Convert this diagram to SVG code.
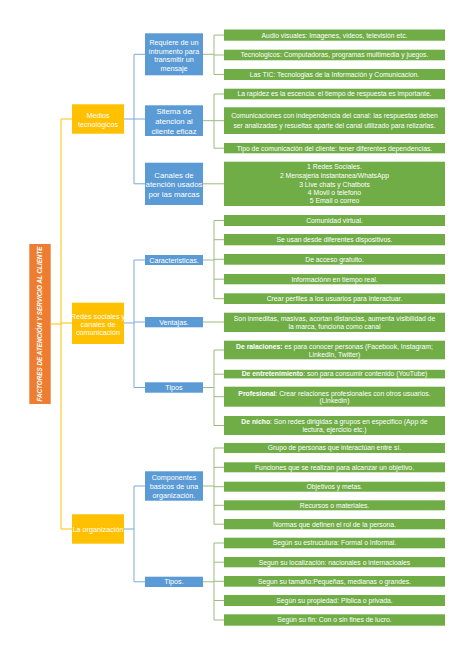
<svg xmlns="http://www.w3.org/2000/svg" width="474" height="670" viewBox="0 0 474 670">
<style>
text{font-family:"Liberation Sans",Arial,sans-serif;fill:#fff;text-anchor:middle}
.g{fill:#70AD47}.b{fill:#5B9BD5}.y{fill:#FFC000}.o{fill:#ED7D31}
.gt{font-size:6.8px}.bt{font-size:7.2px}.bt2{font-size:7.8px}.yt{font-size:7.2px}
.lg{stroke:#9DBB7E;fill:none;stroke-width:1}.lb{stroke:#7DA7D9;fill:none;stroke-width:1}.ly{stroke:#FFC000;fill:none;stroke-width:1}
.bold{font-weight:bold}
</style>
<rect width="474" height="670" fill="#fff"/>
<g id="connectors">
<path class="ly" d="M51,324H61M61,119V529M61,119H72M61,323H72M61,529H72"/>
<path class="lb" d="M124,119H134M134,54.3V183.8M134,54.3H145M134,119H145M134,183.8H145"/>
<path class="lb" d="M124,323H134M134,260V387.5M134,260H145M134,322H145M134,387.5H145"/>
<path class="lb" d="M124,529H134M134,486V581.8M134,486H145M134,581.8H145"/>
<path class="lg" d="M203,54.3H214M214,35.1V74.5M214,35.1H224M214,55H224M214,74.5H224"/>
<path class="lg" d="M203,120.7H214M214,94V148.2M214,94H224M214,120.7H224M214,148.2H224"/>
<path class="lg" d="M203,183.8H224"/>
<path class="lg" d="M203,260H214M214,220.5V298.7M214,220.5H224M214,239.7H224M214,259.3H224M214,279.2H224M214,298.7H224"/>
<path class="lg" d="M203,322H224"/>
<path class="lg" d="M203,387.5H214M214,350V425.5M214,350H224M214,374.2H224M214,396.7H224M214,425.5H224"/>
<path class="lg" d="M203,486H214M214,448V524.2M214,448H224M214,467.3H224M214,486.7H224M214,505.3H224M214,524.2H224"/>
<path class="lg" d="M203,581.8H214M214,543V620M214,543H224M214,562.2H224M214,581.3H224M214,600.5H224M214,620H224"/>
</g>
<g id="root"><rect class="o" x="29.3" y="244" width="21.4" height="160"/>
<text transform="translate(42.3,324) rotate(-90)" font-size="6.5" font-weight="bold" font-style="italic" textLength="155" lengthAdjust="spacingAndGlyphs">FACTORES DE ATENCIÓN Y SERVICIO AL CLIENTE</text></g>
<g id="medios"><rect class="y" x="72" y="104.3" width="52" height="29.4"/><text class="yt" x="98" y="118.3">Medios</text><text class="yt" x="98" y="126.6">tecnológicos</text></g>
<g id="redes"><rect class="y" x="72" y="302.7" width="52" height="41.3"/><text class="yt" x="98" y="318.6">Redes sociales y</text><text class="yt" x="98" y="326.9">canales de</text><text class="yt" x="98" y="335.3">comunicación</text></g>
<g id="organizacion"><rect class="y" x="72" y="514.3" width="52" height="29.4"/><text class="yt" x="98" y="531.9">La organización</text></g>
<g id="requiere"><rect class="b" x="145" y="33.3" width="58" height="42"/><text class="bt" x="174" y="44.6">Requiere de un</text><text class="bt" x="174" y="53.6">intrumento para</text><text class="bt" x="174" y="61.9">transmitir un</text><text class="bt" x="174" y="70.6">mensaje</text></g>
<g id="sistema"><rect class="b" x="145" y="105.3" width="58" height="30.7"/><text class="bt2" x="174" y="113.8">Sitema de</text><text class="bt2" x="174" y="123.8">atencion al</text><text class="bt2" x="174" y="133.5">cliente eficaz</text></g>
<g id="canales"><rect class="b" x="145" y="162.7" width="58" height="42.3"/><text class="bt2" x="174" y="177.8">Canales de</text><text class="bt2" x="174" y="187.1">atención usados</text><text class="bt2" x="174" y="196.8">por las marcas</text></g>
<g id="caracteristicas"><rect class="b" x="145" y="255" width="58" height="10"/><text class="bt" x="174" y="262.5">Caracteristicas.</text></g>
<g id="ventajas"><rect class="b" x="145" y="317" width="58" height="10.3"/><text class="bt" x="174" y="324.5">Ventajas.</text></g>
<g id="tipos1"><rect class="b" x="145" y="382.3" width="58" height="10.4"/><text class="bt" x="174" y="390">Tipos</text></g>
<g id="componentes"><rect class="b" x="145" y="471.3" width="58" height="29.4"/><text class="bt" x="174" y="480.2">Componentes</text><text class="bt" x="174" y="488.5">basicos de una</text><text class="bt" x="174" y="497.5">organización.</text></g>
<g id="tipos2"><rect class="b" x="145" y="576.7" width="58" height="10.3"/><text class="bt" x="174" y="584.3">Tipos.</text></g>
<g id="g1"><rect class="g" x="224" y="29.5" width="221" height="11.2"/><text class="gt" x="334.5" y="37.5">Audio visuales: Imagenes, videos, televisión etc.</text></g>
<g id="g2"><rect class="g" x="224" y="49.7" width="221" height="10.6"/><text class="gt" x="334.5" y="57.4">Tecnologicos: Computadoras, programas multimedia y juegos.</text></g>
<g id="g3"><rect class="g" x="224" y="69" width="221" height="11"/><text class="gt" x="334.5" y="76.9">Las TIC: Tecnologias de la Información y Comunicacion.</text></g>
<g id="g4"><rect class="g" x="224" y="88.7" width="221" height="10.6"/><text class="gt" x="334.5" y="96.4">La rapidez es la escencia: el tiempo de respuesta es importante.</text></g>
<g id="g5"><rect class="g" x="224" y="107.3" width="221" height="26.7"/><text class="gt" x="334.5" y="118.4">Comunicaciones con independencia del canal: las respuestas deben</text><text class="gt" x="334.5" y="127.7">ser analizadas y resueltas aparte del canal utilizado para relizarlas.</text></g>
<g id="g6"><rect class="g" x="224" y="143" width="221" height="10.3"/><text class="gt" x="334.5" y="150.6">Tipo de comunicación del cliente: tener diferentes dependencias.</text></g>
<g id="g7"><rect class="g" x="224" y="161.7" width="221" height="44.3"/><text class="gt" x="334.5" y="169.1">1 Redes Sociales.</text><text class="gt" x="334.5" y="178.4">2 Mensajeria instantanea/WhatsApp</text><text class="gt" x="334.5" y="186.7">3 Live chats y Chatbots</text><text class="gt" x="334.5" y="195.1">4 Movil o telefono</text><text class="gt" x="334.5" y="203.4">5 Email o correo</text></g>
<g id="g8"><rect class="g" x="224" y="215" width="221" height="11"/><text class="gt" x="334.5" y="222.9">Comunidad virtual.</text></g>
<g id="g9"><rect class="g" x="224" y="234" width="221" height="11.3"/><text class="gt" x="334.5" y="242.1">Se usan desde diferentes dispositivos.</text></g>
<g id="g10"><rect class="g" x="224" y="254" width="221" height="10.7"/><text class="gt" x="334.5" y="261.7">De acceso gratuito.</text></g>
<g id="g11"><rect class="g" x="224" y="274" width="221" height="10.3"/><text class="gt" x="334.5" y="281.6">Informaciónn en tiempo real.</text></g>
<g id="g12"><rect class="g" x="224" y="293.3" width="221" height="10.7"/><text class="gt" x="334.5" y="301.1">Crear perfiles a los usuarios para interactuar.</text></g>
<g id="g13"><rect class="g" x="224" y="312.7" width="221" height="19.3"/><text class="gt" x="334.5" y="320.7">Son inmeditas, masivas, acortan distancias, aumenta visibilidad de</text><text class="gt" x="334.5" y="328.7">la marca, funciona como canal</text></g>
<g id="g14"><rect class="g" x="224" y="340.7" width="221" height="18.6"/><text class="gt" x="334.5" y="349.4"><tspan class="bold">De ralaciones:</tspan> es para conocer personas  (Facebook, Instagram;</text><text class="gt" x="334.5" y="356.7">LinkedIn, Twitter)</text></g>
<g id="g15"><rect class="g" x="224" y="369.8" width="221" height="8.6"/><text class="gt" x="334.5" y="376.4"><tspan class="bold">De entretenimiento</tspan>: son para consumir contenido (YouTube)</text></g>
<g id="g16"><rect class="g" x="224" y="386.7" width="221" height="20"/><text class="gt" x="334.5" y="395.7"><tspan class="bold">Profesional</tspan>: Crear relaciones profesionales con otros usuarios.</text><text class="gt" x="334.5" y="403.1">(Linkedin)</text></g>
<g id="g17"><rect class="g" x="224" y="416" width="221" height="19"/><text class="gt" x="334.5" y="424.4"><tspan class="bold">De nicho</tspan>: Son redes dirigidas a grupos en especifico (App de</text><text class="gt" x="334.5" y="431.7">lectura, ejercicio etc.)</text></g>
<g id="g18"><rect class="g" x="224" y="443" width="221" height="10"/><text class="gt" x="334.5" y="450.4">Grupo de personas que interactúan entre sí.</text></g>
<g id="g19"><rect class="g" x="224" y="462.3" width="221" height="10"/><text class="gt" x="334.5" y="469.7">Funciones que se realizan para alcanzar un objetivo.</text></g>
<g id="g20"><rect class="g" x="224" y="481.7" width="221" height="10"/><text class="gt" x="334.5" y="489.1">Objetivos y metas.</text></g>
<g id="g21"><rect class="g" x="224" y="500.3" width="221" height="10"/><text class="gt" x="334.5" y="507.7">Recursos o materiales.</text></g>
<g id="g22"><rect class="g" x="224" y="519" width="221" height="10.3"/><text class="gt" x="334.5" y="526.6">Normas que definen el rol de la persona.</text></g>
<g id="g23"><rect class="g" x="224" y="537.7" width="221" height="10.6"/><text class="gt" x="334.5" y="545.4">Según su estrucutura: Formal o Informal.</text></g>
<g id="g24"><rect class="g" x="224" y="557" width="221" height="10.3"/><text class="gt" x="334.5" y="564.6">Segun su localización:  nacionales o internacioales</text></g>
<g id="g25"><rect class="g" x="224" y="576" width="221" height="10.7"/><text class="gt" x="334.5" y="583.7">Segun su tamaño:Pequeñas, medianas o grandes.</text></g>
<g id="g26"><rect class="g" x="224" y="595" width="221" height="11"/><text class="gt" x="334.5" y="602.9">Según su propiedad: Piblica o privada.</text></g>
<g id="g27"><rect class="g" x="224" y="614.3" width="221" height="11.4"/><text class="gt" x="334.5" y="622.4">Según su fin: Con o sin fines de lucro.</text></g>
</svg>
